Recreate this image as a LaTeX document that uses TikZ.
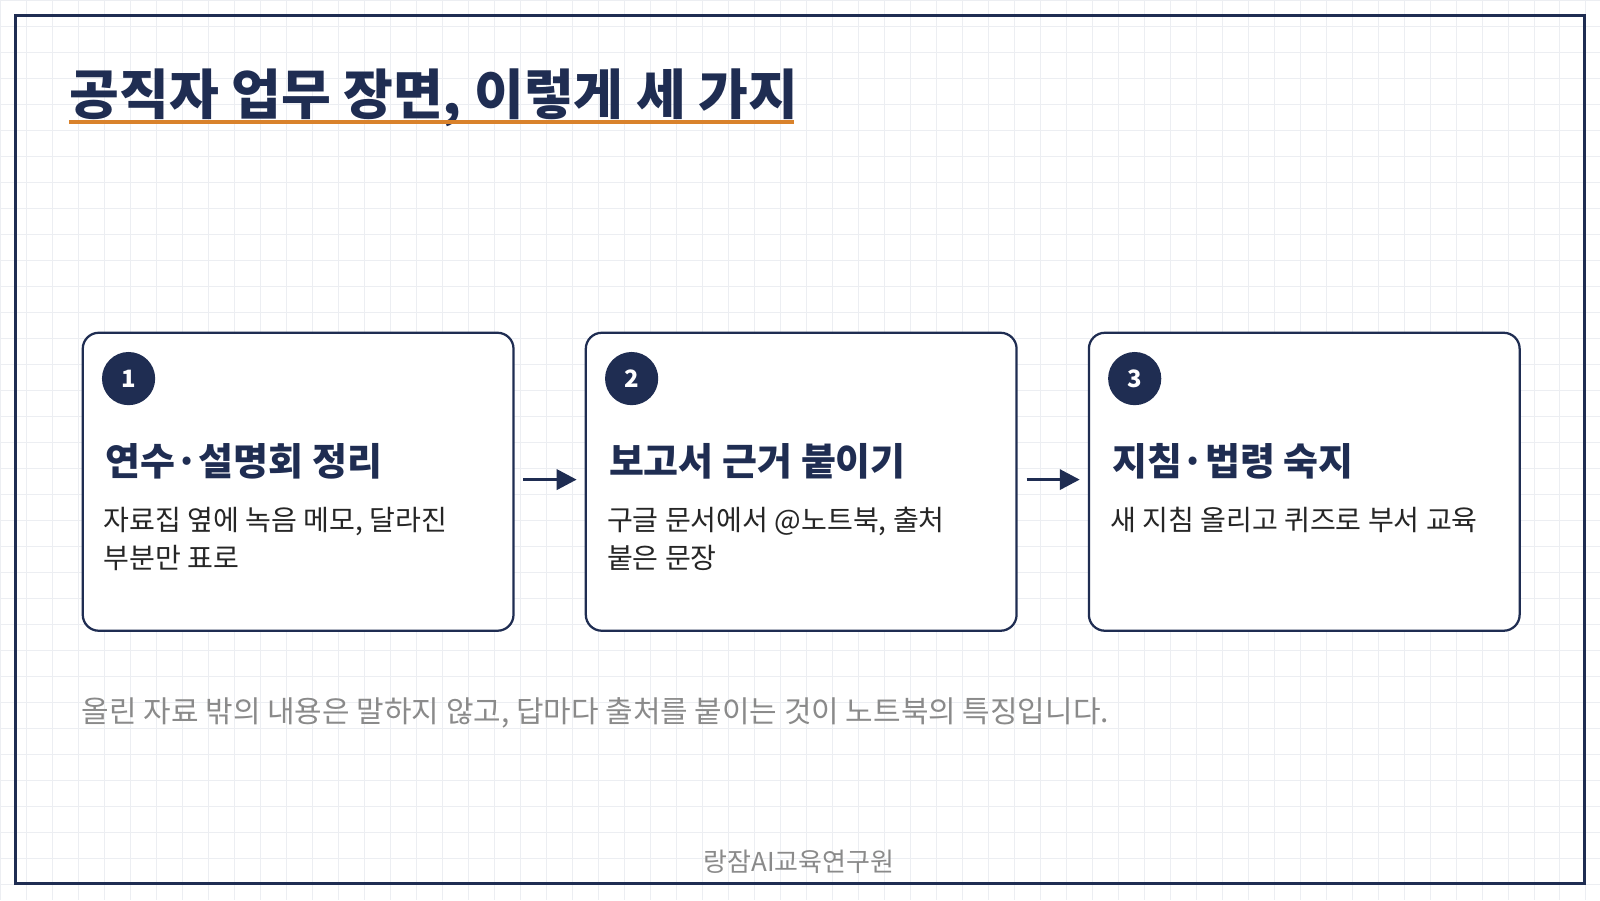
\documentclass[tikz,border=0pt]{standalone}
\usepackage{fontspec}
\setmainfont{Noto Sans CJK KR}
\usetikzlibrary{arrows.meta}
\definecolor{navy}{HTML}{1F2D52}
\definecolor{accent}{HTML}{D9822B}
\definecolor{gridc}{HTML}{ECEEF2}
\definecolor{note}{HTML}{8A8A8A}
\begin{document}
\begin{tikzpicture}[x=0.025510cm,y=-0.025510cm,
card/.style={draw=navy,line width=1.6pt,rounded corners=0.4cm,fill=white,minimum width=10.77cm,minimum height=7.45cm,anchor=north west},
badge/.style={circle,fill=navy,minimum size=1.33cm,inner sep=0pt,text=white,font=\bfseries\fontsize{17}{17}\selectfont},
head/.style={anchor=west,text=navy,font=\bfseries\fontsize{27}{30}\selectfont},
body/.style={anchor=north west,align=left,text=black!85,font=\fontsize{20}{27}\selectfont},
flow/.style={draw=navy,line width=2.6pt,-{Triangle[length=0.5cm,width=0.5cm]},shorten >=0.2cm,shorten <=0.22cm}]
\useasboundingbox (0,0) rectangle (1568,882);
\fill[white] (0,0) rectangle (1568,882);
\draw[gridc,line width=0.5pt,step=0.65cm] (0,0) grid (1568,882);
\draw[navy,line width=2pt] (15,15) rectangle (1553,866);
% title
\node[anchor=base west,inner sep=0pt,text=navy,font=\bfseries\fontsize{38.5}{40}\selectfont] (title) at (68,112) {공직자 업무 장면, 이렇게 세 가지};
\draw[accent,line width=2.8pt] (title.base west) ++(0,8) -- ++(710,0);
% cards
\node[card] (c1) at (80,325) {};
\node[card] (c2) at (573,325) {};
\node[card] (c3) at (1066,325) {};
\node[badge] (b1) at (126,371) {1};
\node[badge] (b2) at (619,371) {2};
\node[badge] (b3) at (1112,371) {3};
\node[head] (h1) at (99,452) {연수·설명회 정리};
\node[head] (h2) at (592,452) {보고서 근거 붙이기};
\node[head] (h3) at (1085,452) {지침·법령 숙지};
\node[body] (t1) at (97,492) {자료집 옆에 녹음 메모, 달라진\\부분만 표로};
\node[body] (t2) at (590,492) {구글 문서에서 @노트북, 출처\\붙은 문장};
\node[body] (t3) at (1083,492) {새 지침 올리고 퀴즈로 부서 교육};
\draw[flow] (c1.east |- 0,470) -- (c2.west |- 0,470);
\draw[flow] (c2.east |- 0,470) -- (c3.west |- 0,470);
% notes
\node[anchor=west,inner sep=0pt,text=note,font=\fontsize{21.3}{24}\selectfont] (note) at (80,699) {올린 자료 밖의 내용은 말하지 않고, 답마다 출처를 붙이는 것이 노트북의 특징입니다.};
\node[text=note,font=\fontsize{18.5}{20}\selectfont] (credit) at (783,845) {랑잠AI교육연구원};
\end{tikzpicture}
\end{document}
